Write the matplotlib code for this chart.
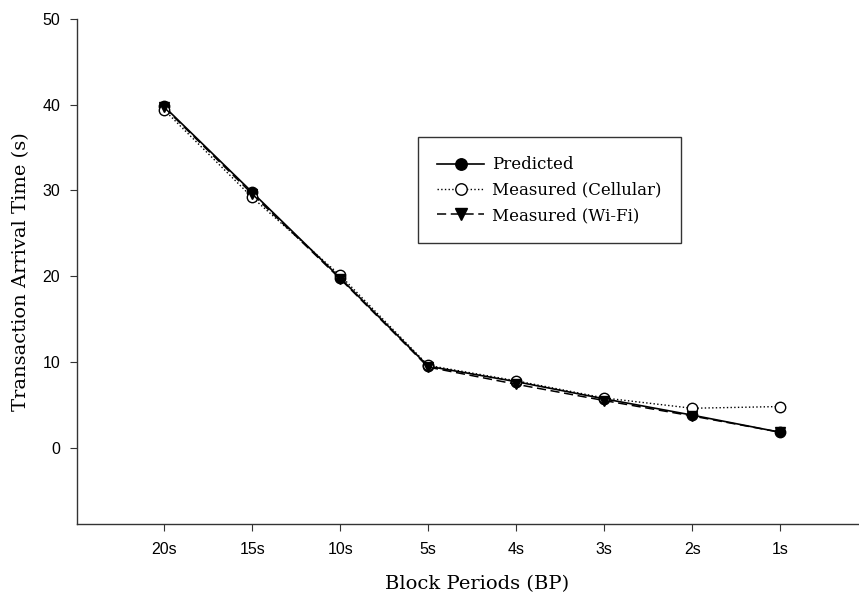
import matplotlib.pyplot as plt

# Block periods and arrival times
periods = ['20s', '15s', '10s', '5s', '4s', '3s', '2s', '1s']
predicted = [39.8, 29.8, 19.8, 9.5, 7.7, 5.7, 3.8, 1.8]
cellular = [39.4, 29.2, 20.1, 9.6, 7.8, 5.8, 4.6, 4.8]
wifi = [39.7, 29.6, 19.7, 9.4, 7.4, 5.5, 3.7, 1.8]

fig = plt.figure(figsize=(8.59, 5.97), dpi=100)
# axes run a little past the right edge of the figure, as in the original
ax = fig.add_axes([77 / 859, 1 - 524 / 597, 800 / 859, (524 - 19) / 597])

x = list(range(len(periods)))
ax.plot(x, predicted, color='black', linestyle='-', linewidth=1.2,
        marker='o', markersize=7.5, markerfacecolor='black', label='Predicted')
ax.plot(x, cellular, color='black', linestyle=':', linewidth=1.0,
        marker='o', markersize=7.5, markerfacecolor='white',
        label='Measured (Cellular)')
ax.plot(x, wifi, color='black', linestyle=(0, (6, 3)), linewidth=1.1,
        marker='v', markersize=7.5, markerfacecolor='black',
        label='Measured (Wi-Fi)')

ax.set_xlim(-0.99, 8.1)
ax.set_ylim(-8.9, 50)
ax.set_xticks(x)
ax.set_xticklabels(periods)
ax.set_yticks([0, 10, 20, 30, 40, 50])

for s in ['top', 'right']:
    ax.spines[s].set_visible(False)
for s in ['left', 'bottom']:
    ax.spines[s].set_linewidth(1.0)
    ax.spines[s].set_color('#333333')

ax.tick_params(direction='out', length=5, width=0.8, color='#333333',
               labelsize=11.5)
ax.tick_params(axis='x', pad=8)
ax.tick_params(axis='y', pad=7)
for lab in ax.get_xticklabels() + ax.get_yticklabels():
    lab.set_family('Liberation Sans')

ax.set_xlabel('Block Periods (BP)', family='DejaVu Serif', fontsize=14,
              labelpad=13)
ax.set_ylabel('Transaction Arrival Time (s)', family='DejaVu Serif',
              fontsize=14, labelpad=9)

leg = ax.legend(loc='upper left', bbox_to_anchor=(341 / 800, 0.766),
                borderaxespad=0,
                prop={'family': 'DejaVu Serif', 'size': 12},
                fancybox=False, framealpha=1, edgecolor='#333333',
                handlelength=2.8, handletextpad=0.5, borderpad=1.15,
                labelspacing=0.5, markerscale=1.1)
leg.get_frame().set_linewidth(1.0)

fig.savefig('out.png', dpi=100)
